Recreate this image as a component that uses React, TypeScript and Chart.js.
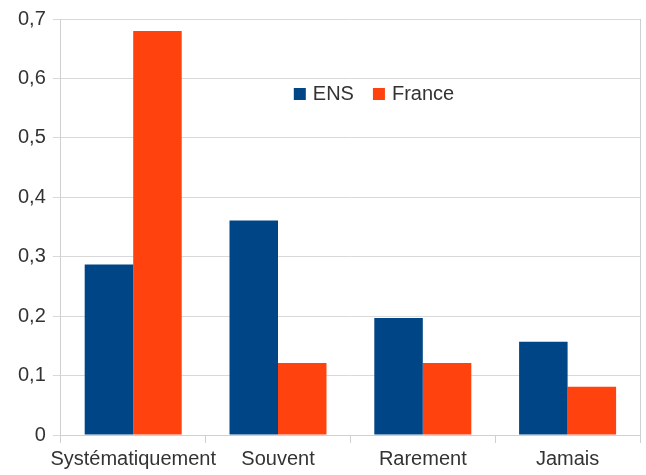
import React, { useEffect, useRef } from "react";
import { Chart, registerables } from "chart.js";

Chart.register(...registerables);

const categories = ["Systématiquement", "Souvent", "Rarement", "Jamais"];
const ensValues = [0.287, 0.361, 0.197, 0.157];
const franceValues = [0.68, 0.121, 0.121, 0.081];
const seriesLabels = ["ENS", "France"];
const seriesColors = ["#004586", "#ff420e"];

const FONT = "'Liberation Sans', Arial, sans-serif";
const TEXT = "#333333";

const legendInside = {
  id: "legendInside",
  afterDraw(chart: any) {
    const { ctx, chartArea } = chart;
    ctx.save();
    // right border of plot
    ctx.strokeStyle = "#d0d0d0";
    ctx.lineWidth = 1;
    ctx.beginPath();
    ctx.moveTo(Math.round(chartArea.right) + 0.5, chartArea.top);
    ctx.lineTo(Math.round(chartArea.right) + 0.5, chartArea.bottom);
    ctx.stroke();

    ctx.font = `20px ${FONT}`;
    ctx.textBaseline = "middle";
    const y = chartArea.top + 75;
    let x = chartArea.left + 233;
    chart.data.datasets.forEach((ds: any) => {
      ctx.fillStyle = ds.backgroundColor;
      ctx.fillRect(x, y - 6, 12, 12);
      ctx.fillStyle = TEXT;
      ctx.fillText(ds.label, x + 19, y);
      x += 19 + ctx.measureText(ds.label).width + 19;
    });
    ctx.restore();
  },
};

export default function App() {
  const ref = useRef<HTMLCanvasElement>(null);
  useEffect(() => {
    const chart = new Chart(ref.current!, {
      type: "bar",
      data: {
        labels: categories,
        datasets: [
          { label: seriesLabels[0], data: ensValues, backgroundColor: seriesColors[0] },
          { label: seriesLabels[1], data: franceValues, backgroundColor: seriesColors[1] },
        ],
      },
      options: {
        animation: false,
        responsive: false,
        layout: { padding: { left: 11, right: 6, top: 7, bottom: 0 } },
        plugins: { legend: { display: false }, tooltip: { enabled: false } },
        datasets: { bar: { categoryPercentage: 0.67, barPercentage: 1 } },
        scales: {
          x: {
            grid: { offset: true, drawOnChartArea: false, drawTicks: true, tickLength: 8, color: "#d0d0d0" },
            border: { display: true, color: "#d0d0d0" },
            ticks: { color: TEXT, font: { family: FONT, size: 20 }, padding: 4, maxRotation: 0, autoSkip: false },
          },
          y: {
            min: 0,
            max: 0.7,
            grid: { color: "#d9d9d9", tickLength: 8 },
            border: { display: true, color: "#d0d0d0" },
            ticks: {
              stepSize: 0.1,
              color: TEXT,
              font: { family: FONT, size: 20 },
              padding: 7,
              callback: (v: any) => (Number(v) === 0 ? "0" : Number(v).toFixed(1).replace(".", ",")),
            },
          },
        },
      },
      plugins: [legendInside],
    });
    return () => chart.destroy();
  }, []);
  return (
    <div style={{ position: "absolute", left: 0, top: 0, width: 646, height: 475, background: "#fff" }}>
      <canvas ref={ref} width={646} height={475} />
    </div>
  );
}
